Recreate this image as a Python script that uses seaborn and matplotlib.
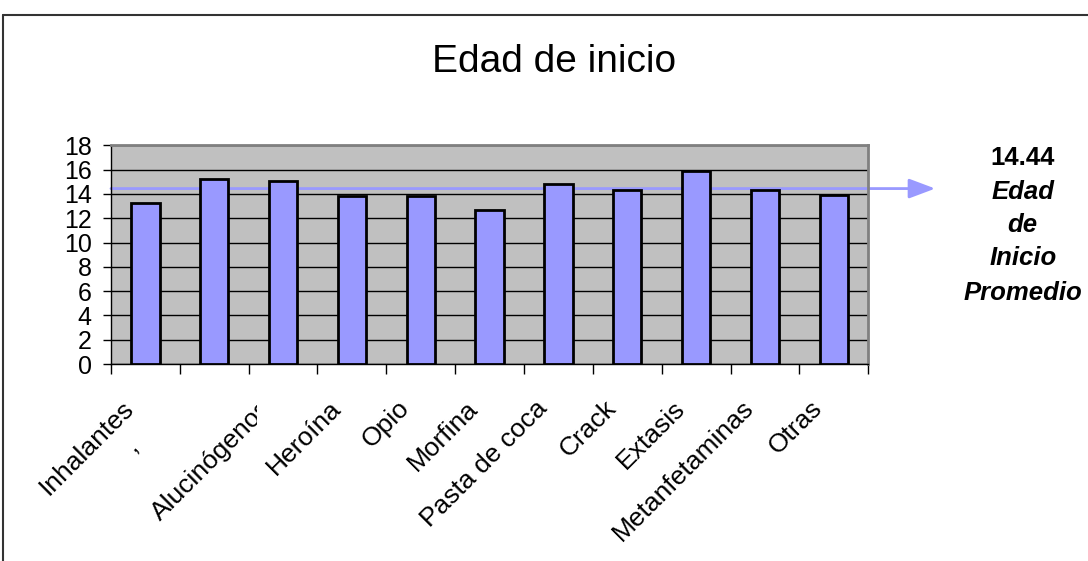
import numpy as np
import pandas as pd
import seaborn as sns
import matplotlib.pyplot as plt
import matplotlib.transforms as mtransforms
from matplotlib.lines import Line2D

# datos
drogas = ['Inhalantes', ',', 'Alucinógenos', 'Heroína', 'Opio', 'Morfina',
          'Pasta de coca', 'Crack', 'Extasis', 'Metanfetaminas', 'Otras']
edades = [13.25, 15.2, 15.1, 13.85, 13.85, 12.65, 14.8, 14.35, 15.85, 14.35, 13.95]
promedio = 14.44
yticks = list(range(0, 19, 2))

df = pd.DataFrame({'Droga': drogas, 'Edad': edades})

sns.set_style('ticks')
plt.rcParams['font.family'] = ['Liberation Sans', 'DejaVu Sans']
plt.rcParams['text.color'] = 'black'
plt.rcParams['xtick.color'] = 'black'
plt.rcParams['ytick.color'] = 'black'

fig = plt.figure(figsize=(10.88, 5.61), dpi=100)
ax = fig.add_axes([0.102, 0.351, 0.696, 0.390])
ax.set_facecolor('#C0C0C0')

sns.barplot(data=df, x='Droga', y='Edad', color='#9999FF', saturation=1,
            edgecolor='black', linewidth=2, width=0.41, ax=ax, zorder=3)

ax.set_xlim(-0.5, len(drogas) - 0.5)
ax.set_ylim(0, 18)
ax.set_yticks(yticks)
ax.yaxis.grid(True, color='black', linewidth=1)
ax.set_axisbelow(True)
ax.set(xlabel='', ylabel='')

ax.set_xticks(np.arange(-0.5, len(drogas), 1), minor=True)
ax.tick_params(axis='x', which='minor', length=7, width=1, color='black', direction='out')
ax.tick_params(axis='x', which='major', length=0, pad=29, labelsize=19, labelcolor='black')
ax.tick_params(axis='y', length=6, width=1, color='black', direction='out', pad=8,
               labelsize=18, labelcolor='black')
desplaza = mtransforms.ScaledTranslation(-0.15, 0, fig.dpi_scale_trans)
for i, lab in enumerate(ax.get_xticklabels()):
    lab.set_rotation(45)
    lab.set_ha('right')
    lab.set_va('center')
    lab.set_rotation_mode('anchor')
    tr = lab.get_transform() + desplaza
    if i == 1:
        # la coma suelta queda bajo "Inhalantes"
        tr = tr + mtransforms.ScaledTranslation(-0.65, -0.38, fig.dpi_scale_trans)
    lab.set_transform(tr)
    if i == 2:
        # etiqueta recortada como en el original
        lab.set_clip_box(mtransforms.TransformedBbox(
            mtransforms.Bbox([[0, 0], [257 / 1088, 1]]), fig.transFigure))
        lab.set_clip_on(True)

for s in ['top', 'right']:
    ax.spines[s].set_color('#808080')
    ax.spines[s].set_linewidth(2)
for s in ['left', 'bottom']:
    ax.spines[s].set_color('black')
    ax.spines[s].set_linewidth(1)

# linea del promedio con flecha
trans = mtransforms.blended_transform_factory(ax.transAxes, ax.transData)
ax.annotate('', xy=(1.0885, promedio), xytext=(0, promedio),
            xycoords=trans, textcoords=trans, annotation_clip=False, zorder=2.5,
            arrowprops=dict(arrowstyle='-|>,head_length=0.8,head_width=0.3',
                            color='#9999FF', lw=2, mutation_scale=20,
                            shrinkA=0, shrinkB=0))

fig.text(0.509, 0.872, 'Edad de inicio', fontsize=28, ha='center', va='baseline')

fig.text(0.940, 0.706, f'{promedio:.2f}', fontsize=18.5, fontweight='bold',
         ha='center', va='baseline')
for txt, y in zip(['Edad', 'de', 'Inicio', 'Promedio'], [0.646, 0.586, 0.527, 0.465]):
    fig.text(0.940, y, txt, fontsize=18.5, fontweight='bold', fontstyle='italic',
             ha='center', va='baseline')

# marco exterior
fig.add_artist(Line2D([3 / 1088, 1], [1 - 15 / 561] * 2, transform=fig.transFigure,
                      color='#333333', lw=1.5))
fig.add_artist(Line2D([3 / 1088] * 2, [0, 1 - 15 / 561], transform=fig.transFigure,
                      color='#333333', lw=1.5))

fig.savefig('out.png', dpi=100)
